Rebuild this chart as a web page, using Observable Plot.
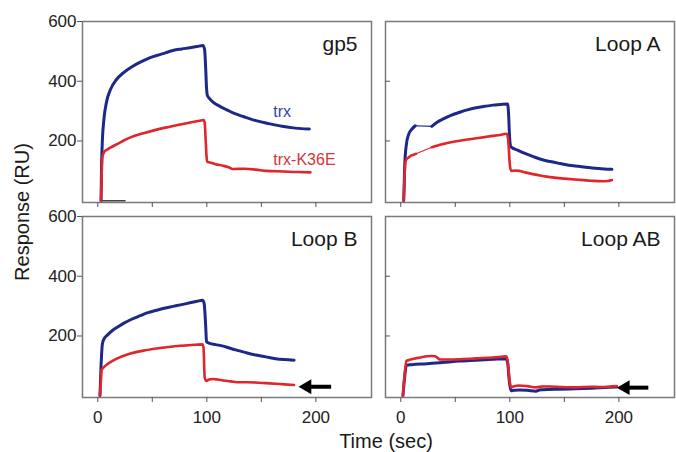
<!DOCTYPE html>
<html>
<head>
<meta charset="utf-8">
<script src="https://cdn.jsdelivr.net/npm/d3@7"></script>
<script src="https://cdn.jsdelivr.net/npm/@observablehq/plot@0.6"></script>
<style>
  html, body { margin: 0; padding: 0; background: #fff; }
  #chart svg { display: block; }
</style>
</head>
<body>
<div id="chart"></div>
<script>
// ---- panels ----
const panels = ["gp5", "Loop A", "Loop B", "Loop AB"];
const panelCols = ["L", "R", "L", "R"];
const panelRows = ["T", "T", "B", "B"];

// ---- axis ticks ----
const xTicks = [0, 50, 100, 150, 200];
const xTickLabels = [0, 100, 200];
const yTickLabels = [200, 400, 600];
const yTicksInner = [200, 400];

// ---- series: [time (sec), response (RU)] ; null = gap in the thick trace ----
const gp5Trx = [[3,0],[3.5,120],[4.2,200],[5.7,275],[8,330],[12,375],[17,405],[24,430],[31,448],[39,464],[46,476],[54,486],[62,495],[69,503],[77,508],[84.5,512],[91,516],[96.5,520],[98,505],[99,440],[99.7,380],[100.5,352],[103,340],[105.7,330],[112,316],[118,305],[124,294],[134,281],[145,268],[157,258],[169,249],[181,243],[194,240]];
const gp5K36E = [[3,0],[3.5,80],[4.2,145],[5.7,162],[9,172],[14.8,184],[22,198],[30,212],[42,226],[54,238],[65,247],[75.5,255],[85,262],[93.6,268],[97,270],[98,262],[99,200],[99.7,150],[100.5,130],[102.7,128],[108,122],[115,117],[120,112],[124,106],[135,107],[145,104],[154.5,100],[170,98],[183,96],[195,95]];
const gp5Base = [[3,0],[25,0]];

const loopATrx = [[2.7,0],[3.2,60],[3.6,117],[5.2,190],[7.3,223],[10.3,240],[13.3,251],[20,null],[28.5,249],[33,262],[39,274],[46,286],[54,296],[61,304],[69,311],[77,316],[84.5,320],[91,322],[98,324],[99,280],[99.7,218],[101,180],[108,168],[115,157],[122,147],[130,137],[137,131],[145,125],[154,119],[163,115],[172,111],[181.5,108],[193.6,105]];
const loopAK36E = [[2.7,0],[3.3,67],[4.2,128],[5.5,140],[7.3,145],[9,150],[11.8,154],[14,157],[20,null],[28.5,179],[33,184],[39,190],[46,196],[54,201],[61,205],[69,209],[77,213],[84.5,217],[91,220],[96.6,224],[97.5,222],[99,180],[99.7,134],[101,100],[105,101],[108.6,100],[115,94],[121,89],[130,83],[139,78],[150,74],[163,70],[174,67],[184.5,65],[190,66],[193.6,69]];

const loopBTrx = [[2,0],[3,100],[4.3,175],[6,192],[8.8,203],[14,220],[19,232],[24,243],[31,256],[39,268],[46,278],[54,286],[61,293],[69,299],[77,305],[84.5,311],[91,316],[96,320],[97.5,310],[99,230],[99.7,181],[102.7,175],[108,171],[115,166],[122,158],[130,150],[137,143],[145,136],[154,130],[163,124],[171,121],[180,119]];
const loopBK36E = [[2,0],[3,60],[3.3,85],[5.7,96],[9,106],[14.8,119],[22,131],[30,141],[42,151],[54,158],[65,163],[75.5,167],[86,170],[96,172],[97,160],[98,62],[99.7,49],[102,54],[105.7,56],[110,54],[115,51],[122,48],[130,45],[137,45],[145,44],[154,42],[163,40],[171,38],[180,36]];

const loopABTrx = [[2,0],[3.5,60],[5.2,102],[10,104],[24,107],[38,111],[54,116],[69,119],[84.5,122],[96.6,124],[98,110],[99.5,50],[101,17],[104,18],[108.6,19],[116,18],[124,15],[127,19],[130,20],[145,22],[160,23],[175,25],[190.6,28],[198,29]];
const loopABK36E = [[2,0],[3.5,70],[5.2,116],[8,120],[11.8,124],[18,128],[24,132],[28,133],[31.5,132],[34,126],[36,121],[45,121],[54,122],[69,125],[84.5,128],[92,130],[96.6,132],[98,118],[99.5,60],[101,28],[104,32],[108.6,34],[116,32],[124,28],[130,31],[136,31],[148,29],[160,28],[175,30],[182,29],[190.6,30],[198,32]];

// ---- annotations (data units) ----
const seriesLabels = [
  {panel: "gp5", text: "trx", series: "trx", t: 161, v: 297},
  {panel: "gp5", text: "trx-K36E", series: "trx-K36E", t: 161, v: 138}
];
const arrows = [
  {panel: "Loop B", tip: 191, tail: 214, v: 30},
  {panel: "Loop AB", tip: 205, tail: 227, v: 27}
];

// ---- build tables ----
const colOf = p => panelCols[panels.indexOf(p)];
const rowOf = p => panelRows[panels.indexOf(p)];
function rowsFor(panel, series, arr) {
  return arr.map(([t, v]) => ({panel, series, key: panel + "|" + series, t, v, col: colOf(panel), row: rowOf(panel)}));
}
const blueRows = [
  ...rowsFor("gp5", "trx", gp5Trx),
  ...rowsFor("Loop A", "trx", loopATrx),
  ...rowsFor("Loop B", "trx", loopBTrx),
  ...rowsFor("Loop AB", "trx", loopABTrx)
];
const redRows = [
  ...rowsFor("gp5", "trx-K36E", gp5K36E),
  ...rowsFor("Loop A", "trx-K36E", loopAK36E),
  ...rowsFor("Loop B", "trx-K36E", loopBK36E),
  ...rowsFor("Loop AB", "trx-K36E", loopABK36E)
];
const baseRows = rowsFor("gp5", "base", gp5Base);
const panelRowsData = panels.map(p => ({panel: p, col: colOf(p), row: rowOf(p)}));
const labelRows = seriesLabels.map(d => ({...d, col: colOf(d.panel), row: rowOf(d.panel)}));
const arrowRows = arrows.map(d => ({...d, col: colOf(d.panel), row: rowOf(d.panel)}));

const BLUE = "#1d2888";
const RED = "#e0262a";
const FRAME = "#7a7a7a";

const chart = Plot.plot({
  width: 676,
  height: 452,
  marginLeft: 82,
  marginRight: 1,
  marginTop: 21,
  marginBottom: 55,
  style: {fontFamily: "'Liberation Sans', Arial, Helvetica, sans-serif", fontSize: "17px", color: "#222", background: "#fff"},
  x: {domain: [-14, 251]},
  y: {domain: [-6, 600]},
  fx: {domain: ["L", "R"], paddingInner: 0.046, paddingOuter: 0, axis: null},
  fy: {domain: ["T", "B"], paddingInner: 0.072, paddingOuter: 0, axis: null},
  marks: [
    Plot.frame({stroke: FRAME, strokeWidth: 1.5}),
    Plot.axisX({ticks: xTicks, tickSize: 5, text: null, label: null, facetAnchor: null, stroke: "#555"}),
    Plot.axisX({ticks: xTickLabels, tickSize: 0, tickPadding: 13, label: null, facetAnchor: "bottom", fontSize: 17, fill: "#222"}),
    Plot.axisY({ticks: yTickLabels, tickSize: 5, tickPadding: 1, label: null, facetAnchor: "left", fontSize: 17, fill: "#222", stroke: "#555"}),
    Plot.axisY({ticks: yTicksInner, tickSize: -5, text: null, label: null, facetAnchor: "right", stroke: "#555"}),
    Plot.line(baseRows, {x: "t", y: "v", fx: "col", fy: "row", stroke: "#444", strokeWidth: 1.5}),
    Plot.line(blueRows.filter(d => d.v != null), {x: "t", y: "v", z: "key", fx: "col", fy: "row", stroke: BLUE, strokeWidth: 1.2}),
    Plot.line(blueRows, {x: "t", y: "v", z: "key", fx: "col", fy: "row", stroke: BLUE, strokeWidth: 3, curve: "monotone-x"}),
    Plot.line(redRows.filter(d => d.v != null), {x: "t", y: "v", z: "key", fx: "col", fy: "row", stroke: RED, strokeWidth: 1.2}),
    Plot.line(redRows, {x: "t", y: "v", z: "key", fx: "col", fy: "row", stroke: RED, strokeWidth: 2.6, curve: "monotone-x"}),
    Plot.text(labelRows, {x: "t", y: "v", text: "text", fx: "col", fy: "row", textAnchor: "start", fontSize: 16,
      fill: d => d.series === "trx" ? "#2f47a8" : "#d8343a"}),
    Plot.text(panelRowsData, {text: "panel", fx: "col", fy: "row", frameAnchor: "top-right", dx: -14, dy: 15, fontSize: 21, fill: "#1a1a1a"}),
    Plot.link(arrowRows, {x1: "tail", x2: "tip", y1: "v", y2: "v", fx: "col", fy: "row", stroke: "#000", strokeWidth: 4}),
    Plot.dot(arrowRows, {x: "tip", y: "v", fx: "col", fy: "row", symbol: "triangle", rotate: -90, r: 5.5, fill: "#000", dx: 1})
  ]
});

const svg = d3.select(chart.tagName.toLowerCase() === "svg" ? chart : chart.querySelector("svg"));
svg.append("text")
  .attr("transform", "translate(22,212) rotate(-90)")
  .attr("text-anchor", "middle")
  .attr("dy", "0.35em")
  .attr("font-size", 20)
  .attr("fill", "#1a1a1a")
  .text("Response (RU)");
svg.append("text")
  .attr("x", 386)
  .attr("y", 448)
  .attr("text-anchor", "middle")
  .attr("font-size", 20)
  .attr("fill", "#1a1a1a")
  .text("Time (sec)");

document.getElementById("chart").append(chart);
</script>
</body>
</html>
